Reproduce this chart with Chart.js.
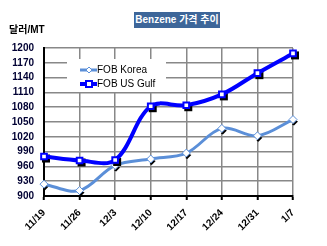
<!DOCTYPE html>
<html lang="ko">
<head>
<meta charset="UTF-8">
<title>Benzene 가격 추이</title>
<script src="https://cdn.jsdelivr.net/npm/chart.js"></script>
<style>
    body { margin: 0; background: #fff; }
    #wrap { position: relative; width: 327px; height: 246px; }
    #title {
        position: absolute; left: 134px; top: 12px; width: 86px; height: 16px;
        background: #3d6699; color: #fff; font: bold 10px "Liberation Sans", "Noto Sans CJK KR", sans-serif;
        line-height: 16px; text-align: center; white-space: nowrap;
    }
    #unit {
        position: absolute; left: 9px; top: 21px;
        font: bold 10px "Liberation Sans", "Noto Sans CJK KR", sans-serif; color: #000;
    }
</style>
</head>
<body>
<div id="wrap">
    <canvas id="chart" width="327" height="246"></canvas>
    <div id="title">Benzene 가격 추이</div>
    <div id="unit">달러/MT</div>
</div>
<script>
    const weeks = ["11/19", "11/26", "12/3", "12/10", "12/17", "12/24", "12/31", "1/7"];
    const fobKorea = [924, 911, 962, 975, 987, 1037, 1022, 1055];
    const fobUsGulf = [980, 972, 973, 1082, 1084, 1106, 1149, 1189];
    const yTicks = [900, 930, 960, 990, 1020, 1050, 1080, 1110, 1140, 1170, 1200];

    const font = { family: "'Liberation Sans', Arial, sans-serif", size: 10, weight: "bold" };

    // black drop shadow behind the markers, like the Excel original
    const markerShadow = {
        id: "markerShadow",
        beforeDatasetDraw(chart, args) {
            const ctx = chart.ctx;
            const meta = args.meta;
            ctx.save();
            ctx.fillStyle = "#000";
            meta.data.forEach(pt => {
                if (args.index === 1) {
                    ctx.fillRect(pt.x - 2, pt.y - 2, 8, 8);
                } else {
                    ctx.beginPath();
                    ctx.moveTo(pt.x + 1, pt.y + 6);
                    ctx.lineTo(pt.x + 5, pt.y + 2);
                    ctx.lineTo(pt.x + 3, pt.y + 1);
                    ctx.lineTo(pt.x - 1, pt.y + 5);
                    ctx.closePath();
                    ctx.fill();
                }
            });
            ctx.restore();
        }
    };

    // legend sitting inside the plot on a white box
    const innerLegend = {
        id: "innerLegend",
        beforeDatasetsDraw(chart) {
            const ctx = chart.ctx;
            ctx.save();
            ctx.fillStyle = "#fff";
            ctx.fillRect(67, 59, 99, 33);
            ctx.font = "10px 'Liberation Sans', Arial, sans-serif";
            ctx.textBaseline = "middle";
            chart.data.datasets.forEach((ds, i) => {
                const y = 70 + i * 14;
                ctx.strokeStyle = ds.borderColor;
                ctx.lineWidth = ds.borderWidth;
                ctx.beginPath();
                ctx.moveTo(80, y);
                ctx.lineTo(97, y);
                ctx.stroke();
                ctx.fillStyle = "#fff";
                ctx.lineWidth = ds.pointBorderWidth;
                ctx.strokeStyle = ds.pointBorderColor;
                if (ds.pointStyle === "rect") {
                    ctx.fillRect(86, y - 3, 6, 6);
                    ctx.strokeRect(86, y - 3, 6, 6);
                } else {
                    ctx.beginPath();
                    ctx.moveTo(89, y - 3);
                    ctx.lineTo(92, y);
                    ctx.lineTo(89, y + 3);
                    ctx.lineTo(86, y);
                    ctx.closePath();
                    ctx.fill();
                    ctx.stroke();
                }
                ctx.fillStyle = "#000";
                ctx.fillText(ds.label, 97, y);
            });
            ctx.restore();
        }
    };

    new Chart(document.getElementById("chart"), {
        type: "line",
        data: {
            labels: weeks,
            datasets: [{
                label: "FOB Korea",
                data: fobKorea,
                borderColor: "#5b8fd8",
                borderWidth: 3,
                pointStyle: "rectRot",
                pointRadius: 4,
                pointBackgroundColor: "#fff",
                pointBorderColor: "#5b8fd8",
                pointBorderWidth: 1,
                tension: 0.35,
                order: 2
            }, {
                label: "FOB US Gulf",
                data: fobUsGulf,
                borderColor: "#0000ff",
                borderWidth: 4,
                pointStyle: "rect",
                pointRadius: 4,
                pointBackgroundColor: "#fff",
                pointBorderColor: "#0000ff",
                pointBorderWidth: 2,
                tension: 0.35,
                order: 1
            }]
        },
        options: {
            responsive: false,
            animation: false,
            layout: { padding: { top: 48, right: 34, left: 0, bottom: 0 } },
            plugins: { legend: { display: false }, tooltip: { enabled: false } },
            scales: {
                x: {
                    offset: false,
                    grid: { color: "#888", lineWidth: 1.5, tickLength: 4, tickColor: "#000", tickWidth: 2 },
                    border: { color: "#000", width: 2 },
                    ticks: { font: font, color: "#000", maxRotation: 45, minRotation: 45, autoSkip: false, padding: 7 },
                    afterFit(s) { s.height = 50; }
                },
                y: {
                    min: 900,
                    max: 1200,
                    afterBuildTicks(s) { s.ticks = yTicks.map(v => ({ value: v })); },
                    grid: { color: "#888", lineWidth: 1.5, drawTicks: false },
                    border: { color: "#000", width: 2 },
                    ticks: { font: font, color: "#000033", padding: 10, autoSkip: false, callback: v => String(v) },
                    afterFit(s) { s.width = 44; }
                }
            }
        },
        plugins: [innerLegend, markerShadow]
    });
</script>
</body>
</html>
